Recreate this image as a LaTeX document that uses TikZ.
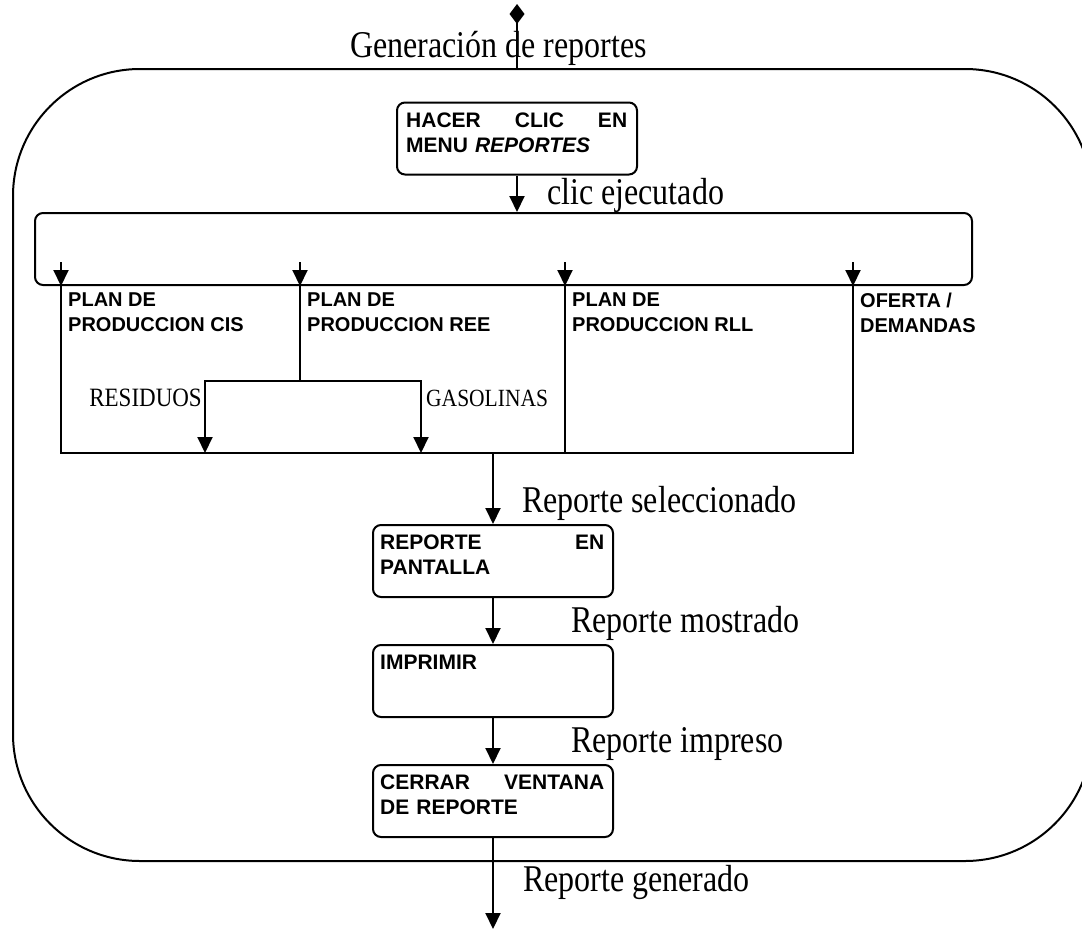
\documentclass[tikz,border=0pt]{standalone}
\usepackage{fontspec}
\setmainfont{Liberation Serif}
\newfontfamily\boxfont{Liberation Sans}
\usetikzlibrary{arrows.meta}
\begin{document}
\begin{tikzpicture}[x=1pt,y=-1pt,
  ln/.style={line width=2pt},
  arr/.style={ln,-{Triangle[width=15pt,length=16pt]}},
  stepbox/.style={draw,ln,rounded corners=8pt,minimum width=240pt,minimum height=72pt,inner sep=0pt},
  lbl/.style={font=\fontsize{32}{38}\selectfont,inner sep=0pt,anchor=base west,transform shape,yscale=1.18},
  small/.style={inner sep=0pt,transform shape,yscale=1.15},
  btxt/.style={font=\boxfont\bfseries\fontsize{21}{25}\selectfont,inner sep=0pt,anchor=north west,align=left},
  gtxt/.style={font=\boxfont\bfseries\fontsize{20}{25}\selectfont,inner sep=0pt,anchor=north west,align=left}
]
\useasboundingbox (0,0) rectangle (1082,929);
\clip (0,0) rectangle (1082,929);

% outer frame
\node[draw,ln,rounded corners=127pt,minimum width=1079pt,minimum height=792pt,inner sep=0pt] (frame) at (552.5,465) {};

% top entry
\coordinate (top) at (517,4);
\node[lbl] (gen) at (350,57) {Generación de reportes};

% step 1
\node[stepbox] (b1) at (517,138.5) {};
\node[btxt,text width=221pt] (t1) at ([shift={(10,11)}]b1.north west) {HACER\hfill CLIC\hfill EN\\MENU \textit{REPORTES}};
\draw[ln,-{Diamond[width=15pt,length=20pt]}] (b1 |- frame.north) -- (top);

% group
\node[draw,ln,rounded corners=8pt,minimum width=937pt,minimum height=72pt,inner sep=0pt] (grp) at (503.5,249) {};
\draw[arr] (b1.south) -- (b1 |- grp.north);
\node[lbl] (clic) at (547,204) {clic ejecutado};

\coordinate (a1) at (61,262);
\coordinate (a2) at (300,262);
\coordinate (a3) at (565,262);
\coordinate (a4) at (853,262);
\foreach \c in {a1,a2,a3,a4} {\draw[arr] (\c) -- (\c |- grp.south);}

\node[gtxt] (p1) at (68,293) {PLAN DE\\PRODUCCION CIS};
\node[gtxt] (p2) at (307,293) {PLAN DE\\PRODUCCION REE};
\node[gtxt] (p3) at (572,293) {PLAN DE\\PRODUCCION RLL};
\node[gtxt] (p4) at (860,293) {OFERTA /\\DEMANDAS};

% collecting line
\coordinate (lowL) at (61,453);
\coordinate (lowR) at (853,453);
\draw[ln] (a1 |- grp.south) -- (lowL) -- (lowR) -- (a4 |- grp.south);
\draw[ln] (a3 |- grp.south) -- (a3 |- lowL);

% REE split
\coordinate (br) at (300,381);
\coordinate (resA) at (205,453);
\coordinate (gasA) at (421,453);
\draw[ln] (a2 |- grp.south) -- (br);
\draw[arr] (br) -| (resA);
\draw[arr] (br) -| (gasA);
\node[small,anchor=base east,font=\fontsize{23}{27}\selectfont] (res) at (202,406) {RESIDUOS};
\node[small,anchor=base west,font=\fontsize{21.5}{26}\selectfont] (gas) at (426,406) {GASOLINAS};

% step 2..4
\node[stepbox] (b2) at (493,561) {};
\node[btxt,text width=224pt] (t2) at ([shift={(8,11)}]b2.north west) {REPORTE\hfill EN\\PANTALLA};
\coordinate (sel) at (493,453);
\draw[arr] (sel) -- (b2.north);
\node[lbl] (rsel) at (522,512) {Reporte seleccionado};

\node[stepbox] (b3) at (493,681) {};
\node[btxt,text width=224pt] (t3) at ([shift={(8,11)}]b3.north west) {IMPRIMIR};
\draw[arr] (b2.south) -- (b3.north);
\node[lbl] (rmos) at (571,632) {Reporte mostrado};

\node[stepbox] (b4) at (493,801) {};
\node[btxt,text width=224pt] (t4) at ([shift={(8,11)}]b4.north west) {CERRAR\hfill VENTANA\\DE REPORTE};
\draw[arr] (b3.south) -- (b4.north);
\node[lbl] (rimp) at (571,752) {Reporte impreso};

\coordinate (fin) at (493,929);
\draw[arr] (b4.south) -- (fin);
\node[lbl] (rgen) at (523,891) {Reporte generado};
\end{tikzpicture}
\end{document}
